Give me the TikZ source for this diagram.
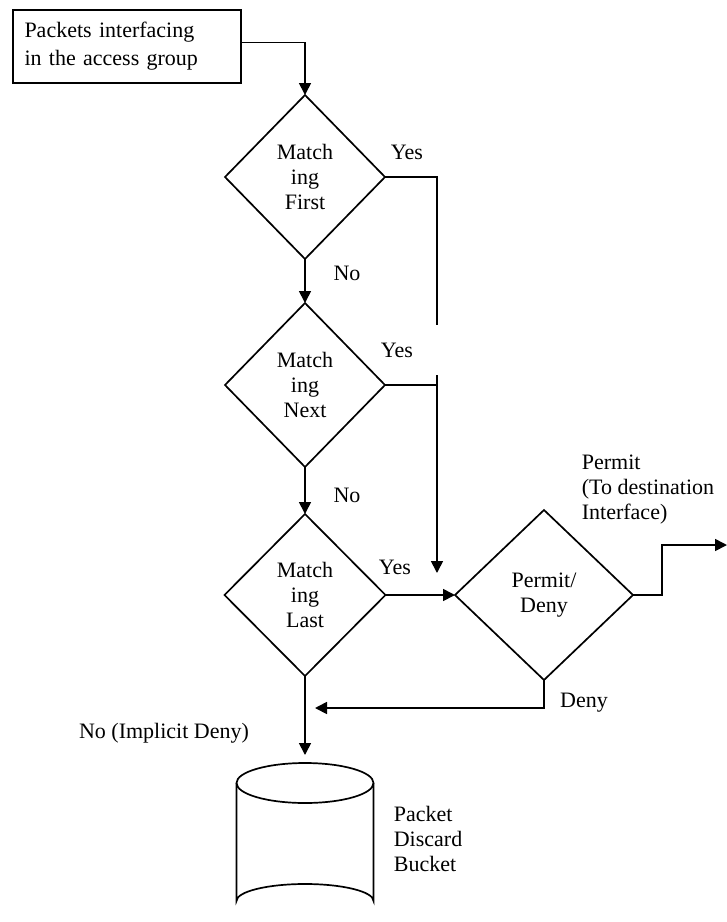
\documentclass[tikz,border=0pt]{standalone}
\usepackage{fontspec}
\setmainfont{Liberation Serif}
\usetikzlibrary{shapes.geometric,arrows.meta}
\begin{document}
\begin{tikzpicture}[x=1pt,y=-1pt,
  line width=1.7pt,
  every node/.style={font=\fontsize{22}{25}\selectfont},
  dec/.style={draw, shape=diamond, inner sep=0pt, outer sep=0pt, align=center},
  lbl/.style={inner sep=0pt},
  arr/.style={-{Triangle[length=12pt,width=12pt]}}
]
\useasboundingbox (0,0) rectangle (727,922);
\node[draw, outer sep=0pt, minimum width=228pt, minimum height=73pt, text width=205pt, align=left, inner sep=0pt, font=\fontsize{22}{28}\selectfont] (box) at (127,46.5) {Packets interfacing\\in the access group};
\node[dec, minimum width=160pt, minimum height=164pt] (d1) at (305,177) {Match\\ing\\First};
\node[dec, minimum width=160pt, minimum height=164pt] (d2) at (305,385) {Match\\ing\\Next};
\node[dec, minimum width=161pt, minimum height=162pt] (d3) at (305,595) {Match\\ing\\Last};
\node[dec, minimum width=178pt, minimum height=170pt] (d4) at (544,595) {Permit/\\Deny};
% cylinder
\node[minimum width=137pt, minimum height=158pt, inner sep=0pt] (bucket) at (305,841) {};
\draw[fill=white] (236.5,783) -- (236.5,901) arc[start angle=180, end angle=360, x radius=68.5, y radius=17] -- (373.5,783);
\draw (305,783) ellipse[x radius=68.5, y radius=20];
% labels
\node[lbl] (y1) at (407,152) {Yes};
\node[lbl] (y2) at (397,350) {Yes};
\node[lbl] (y3) at (395,567) {Yes};
\node[lbl] (n1) at (347,273) {No};
\node[lbl] (n2) at (347,495) {No};
\node[lbl] (dn) at (584,703) {Deny};
\node[lbl] (nid) at (164,733) {No (Implicit Deny)};
\node[lbl, align=left, anchor=west] (pdb) at (393,839) {Packet\\Discard\\Bucket};
\node[lbl, align=left, anchor=west] (perm) at (581,490) {Permit\\(To destination\\Interface)};
% coordinates
\coordinate (v1) at (437,177);
\coordinate (v1e) at (437,325);
\coordinate (v2) at (437,385);
\coordinate (v2s) at (437,375);
\coordinate (v2e) at (437,573);
\coordinate (p1) at (662,595);
\coordinate (p2) at (662,545);
\coordinate (out) at (727,545);
\coordinate (dcorner) at (544,708);
\coordinate (dend) at (315,708);
\coordinate (bt) at (305,755);
% connectors
\draw[arr] ([yshift=4pt]box.east) -| (d1.north);
\draw[arr] (d1.south) -- (d2.north);
\draw[arr] (d2.south) -- (d3.north);
\draw (d1.east) -- (v1) -- (v1e);
\draw (d2.east) -- (v2);
\draw[arr] (v2s) -- (v2e);
\draw[arr] (d3.east) -- (d4.west);
\draw[arr] (d4.east) -- (p1) -- (p2) -- (out);
\draw[arr] (d4.south) -- (dcorner) -- (dend);
\draw[arr] (d3.south) -- (bt);
\end{tikzpicture}
\end{document}
